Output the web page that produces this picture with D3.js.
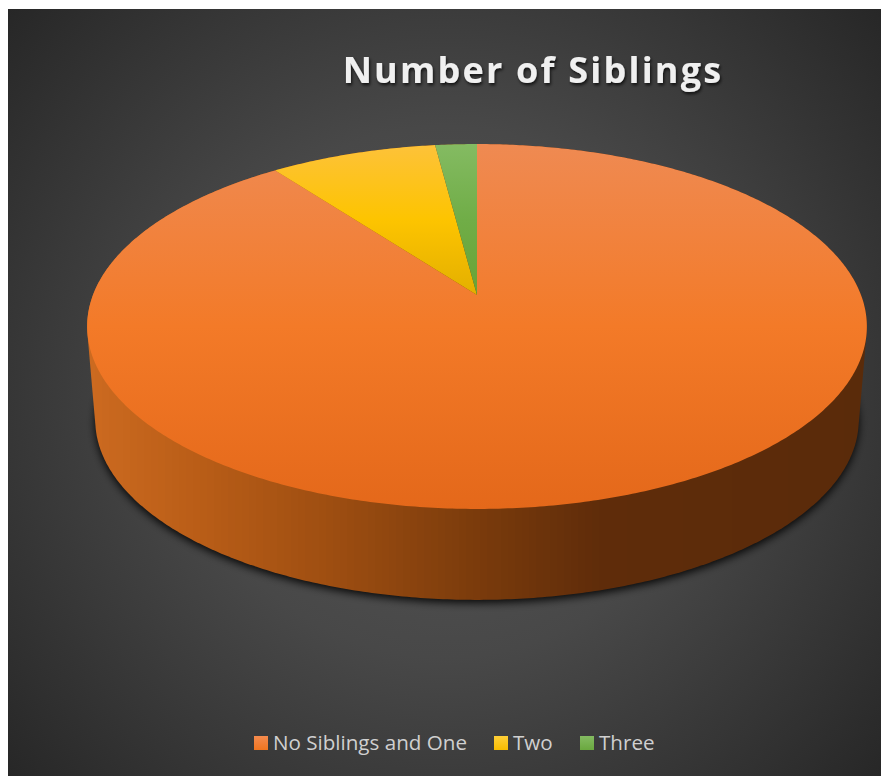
<!DOCTYPE html>
<html>
<head>
<meta charset="utf-8">
<style>
html,body{margin:0;padding:0;background:#fff;}
svg{display:block;}
</style>
<script src="https://cdn.jsdelivr.net/npm/d3@7"></script>
</head>
<body>
<svg id="chart" width="881" height="776"></svg>
<script>
const categories = ["No Siblings and One", "Two", "Three"];
const counts = [44, 4, 1];
const topStops = [
  ["#ef8a52", "#f37a28", "#e4681a"],
  ["#fdc23a", "#fdc400", "#e3af00"],
  ["#84bb62", "#70ad47", "#68a336"]
];
const legendSwatch = [
  ["#f58b4e", "#f1751f"],
  ["#ffcf38", "#f8bc00"],
  ["#84bb62", "#6aa83f"]
];

const width = 881, height = 776;
const svg = d3.select("#chart");
const defs = svg.append("defs");

// Panel backdrop
const bg = defs.append("radialGradient").attr("id", "panelBg")
  .attr("gradientUnits", "userSpaceOnUse")
  .attr("cx", 445).attr("cy", 392).attr("r", 590);
bg.append("stop").attr("offset", 0).attr("stop-color", "#575757");
bg.append("stop").attr("offset", 0.45).attr("stop-color", "#484848");
bg.append("stop").attr("offset", 1).attr("stop-color", "#262626");
svg.append("rect").attr("x", 8).attr("y", 9)
  .attr("width", width - 8).attr("height", height - 9)
  .attr("fill", "url(#panelBg)");

// Title
defs.append("filter").attr("id", "titleShadow")
  .attr("x", "-10%").attr("y", "-30%").attr("width", "120%").attr("height", "170%")
  .append("feDropShadow")
  .attr("dx", 1.2).attr("dy", 2.2).attr("stdDeviation", 1.6)
  .attr("flood-color", "#000").attr("flood-opacity", 0.7);
svg.append("text")
  .attr("x", 533).attr("y", 83)
  .attr("text-anchor", "middle")
  .attr("font-family", "'Open Sans', sans-serif")
  .attr("font-weight", 700)
  .attr("font-size", 36)
  .attr("letter-spacing", 2.2)
  .attr("fill", "#f0f0f0")
  .attr("filter", "url(#titleShadow)")
  .text("Number of Siblings");

// Perspective view of the pie disc: maps the unit circle to the screen
const apex = { x: 477, y: 295 };
const depth = 0.1726;
function project(angle, spanX, spanY, offsetY) {
  const u = Math.sin(angle), v = -Math.cos(angle);
  const w = 1 - depth * v;
  return [apex.x + spanX * u / w, apex.y + offsetY + spanY * v / w];
}
const topRim = a => project(a, 384, 177, 0);
const baseRim = a => project(a, 376, 174.5, 94);

const pie = d3.pie().sort(null).startAngle(0).endAngle(2 * Math.PI);
const arcs = pie(counts);
const outline = d3.line();

function rimPoints(rim, a0, a1) {
  const n = Math.max(2, Math.ceil((a1 - a0) / 0.01));
  return d3.range(n + 1).map(i => rim(a0 + (a1 - a0) * i / n));
}

// Wall of the disc, in narrow vertical bands that darken to the right
const hull = d3.polygonHull(
  rimPoints(topRim, 0, 2 * Math.PI).concat(rimPoints(baseRim, 0, 2 * Math.PI))
);
const wallColor = d3.scaleLinear()
  .domain([90, 200, 330, 470, 600, 870])
  .range(["#cc6a20", "#b95d17", "#9e4e11", "#7c3c0c", "#5f2c0a", "#5a2b0a"]);
const bandEdges = d3.range(88, 872, 7);
const wallGrad = defs.append("linearGradient").attr("id", "wallBands")
  .attr("gradientUnits", "userSpaceOnUse")
  .attr("x1", 88).attr("x2", 872).attr("y1", 0).attr("y2", 0);
bandEdges.forEach((x, i) => {
  const next = i + 1 < bandEdges.length ? bandEdges[i + 1] : 872;
  const c = wallColor(x + 3.5);
  wallGrad.append("stop").attr("offset", (x - 88) / 784).attr("stop-color", c);
  wallGrad.append("stop").attr("offset", (next - 88) / 784).attr("stop-color", c);
});

const blur = defs.append("filter").attr("id", "discShadow")
  .attr("x", "-5%").attr("y", "-5%").attr("width", "110%").attr("height", "115%");
blur.append("feGaussianBlur").attr("stdDeviation", 4);

svg.append("path")
  .attr("d", outline(rimPoints(baseRim, 0, 2 * Math.PI)) + "Z")
  .attr("transform", "translate(0,3)")
  .attr("fill", "#000").attr("fill-opacity", 0.9)
  .attr("filter", "url(#discShadow)");
svg.append("path")
  .attr("d", outline(hull) + "Z")
  .attr("fill", "url(#wallBands)");

// Top face of the slices
arcs.forEach((d, i) => {
  const g = defs.append("linearGradient").attr("id", "slice" + i)
    .attr("gradientUnits", "userSpaceOnUse")
    .attr("x1", 0).attr("x2", 0);
  g.attr("y1", 144).attr("y2", i === 0 ? 509 : 295);
  g.append("stop").attr("offset", 0).attr("stop-color", topStops[i][0]);
  g.append("stop").attr("offset", 0.5).attr("stop-color", topStops[i][1]);
  g.append("stop").attr("offset", 1).attr("stop-color", topStops[i][2]);
  const pts = [[apex.x, apex.y]].concat(rimPoints(topRim, d.startAngle, d.endAngle));
  svg.append("path")
    .attr("d", outline(pts) + "Z")
    .attr("fill", "url(#slice" + i + ")");
});

// Legend
const legendX = [254, 494, 580];
const legend = svg.append("g");
categories.forEach((name, i) => {
  const sw = defs.append("linearGradient").attr("id", "swatch" + i)
    .attr("x1", 0).attr("x2", 0).attr("y1", 0).attr("y2", 1);
  sw.append("stop").attr("offset", 0).attr("stop-color", legendSwatch[i][0]);
  sw.append("stop").attr("offset", 1).attr("stop-color", legendSwatch[i][1]);
  legend.append("rect")
    .attr("x", legendX[i]).attr("y", 736)
    .attr("width", 14).attr("height", 14)
    .attr("fill", "url(#swatch" + i + ")");
  legend.append("text")
    .attr("x", legendX[i] + 19).attr("y", 750)
    .attr("font-family", "'Open Sans', sans-serif")
    .attr("font-size", 20.6)
    .attr("fill", "#d0d0d0")
    .text(name);
});
</script>
</body>
</html>
